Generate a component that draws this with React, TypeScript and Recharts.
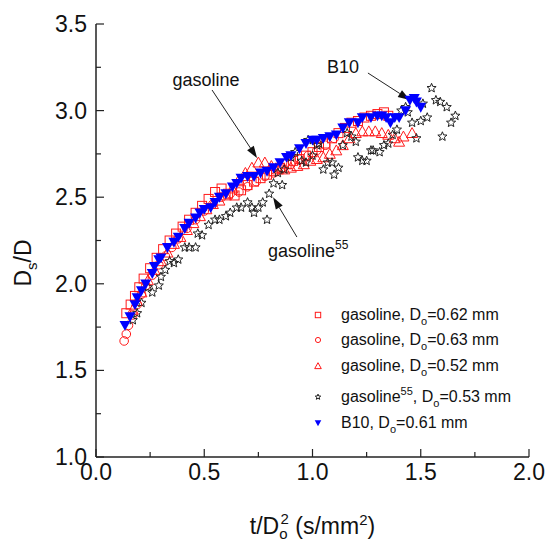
import React from 'react';
import {
  ScatterChart,
  Scatter,
  XAxis,
  YAxis,
  Legend,
  Label,
  ReferenceLine,
  ReferenceDot,
} from 'recharts';

// gasoline, Do=0.62 mm (open squares)
const sqX = [0.14, 0.16, 0.18, 0.2, 0.22, 0.25, 0.28, 0.31, 0.34, 0.37, 0.4, 0.43, 0.46, 0.49, 0.52, 0.55, 0.58, 0.61, 0.64, 0.67, 0.7, 0.73, 0.76, 0.79, 0.82, 0.85, 0.88, 0.91, 0.94, 0.97, 1.0, 1.03, 1.06, 1.09, 1.12, 1.15, 1.18, 1.21, 1.24, 1.27, 1.3, 1.33, 1.35];
const sqY = [1.83, 1.88, 1.93, 1.98, 2.03, 2.09, 2.15, 2.2, 2.25, 2.29, 2.33, 2.37, 2.41, 2.45, 2.49, 2.53, 2.55, 2.52, 2.51, 2.54, 2.57, 2.59, 2.61, 2.63, 2.65, 2.67, 2.69, 2.71, 2.72, 2.74, 2.76, 2.79, 2.81, 2.84, 2.87, 2.9, 2.93, 2.94, 2.96, 2.97, 2.98, 2.99, 2.97];

// gasoline, Do=0.63 mm (open circles)
const ciX = [0.13, 0.14, 0.15, 0.17, 0.19, 0.21, 0.23, 0.26, 0.29, 0.32, 0.35, 0.38, 0.42, 0.46, 0.5, 0.54, 0.58, 0.62, 0.66, 0.7, 0.74, 0.78, 0.82, 0.86, 0.9, 0.94, 0.98, 1.02, 1.06, 1.1];
const ciY = [1.67, 1.71, 1.76, 1.82, 1.88, 1.94, 1.99, 2.05, 2.11, 2.16, 2.21, 2.26, 2.32, 2.37, 2.42, 2.46, 2.5, 2.52, 2.53, 2.56, 2.59, 2.62, 2.64, 2.67, 2.69, 2.72, 2.74, 2.77, 2.8, 2.84];

// gasoline, Do=0.52 mm (open triangles)
const trX = [0.17, 0.19, 0.21, 0.24, 0.27, 0.3, 0.33, 0.36, 0.39, 0.42, 0.45, 0.48, 0.51, 0.54, 0.57, 0.6, 0.63, 0.66, 0.69, 0.72, 0.75, 0.78, 0.81, 0.84, 0.87, 0.9, 0.93, 0.96, 0.99, 1.02, 1.05, 1.08, 1.11, 1.14, 1.17, 1.2, 1.23, 1.26, 1.29, 1.32, 1.35, 1.38, 1.4, 1.42, 1.46];
const trY = [1.85, 1.9, 1.95, 2.02, 2.08, 2.13, 2.18, 2.23, 2.27, 2.31, 2.35, 2.39, 2.43, 2.46, 2.48, 2.51, 2.55, 2.6, 2.64, 2.67, 2.7, 2.7, 2.68, 2.66, 2.66, 2.67, 2.68, 2.69, 2.71, 2.72, 2.73, 2.75, 2.77, 2.8, 2.84, 2.87, 2.88, 2.88, 2.88, 2.87, 2.86, 2.84, 2.82, 2.85, 2.87];

// gasoline55, Do=0.53 mm (stars)
const stX = [0.17, 0.19, 0.21, 0.24, 0.26, 0.29, 0.3, 0.32, 0.34, 0.36, 0.38, 0.41, 0.43, 0.46, 0.47, 0.49, 0.52, 0.55, 0.57, 0.6, 0.62, 0.65, 0.67, 0.7, 0.72, 0.73, 0.75, 0.77, 0.79, 0.8, 0.82, 0.84, 0.86, 0.87, 0.9, 0.92, 0.95, 0.97, 0.98, 1.0, 1.02, 1.03, 1.05, 1.07, 1.09, 1.1, 1.12, 1.14, 1.16, 1.18, 1.2, 1.21, 1.23, 1.25, 1.27, 1.28, 1.31, 1.33, 1.35, 1.37, 1.39, 1.41, 1.43, 1.44, 1.46, 1.48, 1.5, 1.51, 1.53, 1.55, 1.57, 1.59, 1.6, 1.62, 1.64, 1.66];
const stY = [1.79, 1.83, 1.89, 1.98, 1.95, 1.99, 2.04, 2.08, 2.13, 2.12, 2.14, 2.21, 2.21, 2.21, 2.29, 2.28, 2.34, 2.37, 2.37, 2.39, 2.41, 2.44, 2.44, 2.47, 2.44, 2.41, 2.44, 2.47, 2.37, 2.52, 2.58, 2.64, 2.57, 2.66, 2.73, 2.76, 2.71, 2.7, 2.83, 2.74, 2.8, 2.81, 2.66, 2.7, 2.7, 2.63, 2.67, 2.8, 2.87, 2.85, 2.82, 2.73, 2.71, 2.71, 2.77, 2.77, 2.76, 2.8, 2.81, 2.86, 2.89, 3.0, 3.02, 2.99, 2.93, 2.84, 2.94, 3.04, 2.96, 3.13, 3.06, 3.05, 2.85, 3.02, 2.93, 2.97];

// B10, Do=0.61 mm (filled down triangles)
const b10X = [0.134, 0.157, 0.18, 0.19, 0.21, 0.23, 0.26, 0.27, 0.29, 0.3, 0.33, 0.36, 0.38, 0.41, 0.43, 0.46, 0.48, 0.5, 0.53, 0.55, 0.57, 0.6, 0.63, 0.65, 0.67, 0.7, 0.73, 0.76, 0.79, 0.82, 0.85, 0.88, 0.9, 0.94, 0.97, 1.0, 1.02, 1.05, 1.08, 1.11, 1.14, 1.17, 1.21, 1.23, 1.27, 1.3, 1.32, 1.34, 1.36, 1.38, 1.4, 1.43, 1.45, 1.47, 1.48, 1.5];
const b10Y = [1.76, 1.81, 1.88, 1.92, 1.96, 2.0, 2.06, 2.1, 2.14, 2.15, 2.21, 2.24, 2.27, 2.32, 2.35, 2.38, 2.41, 2.43, 2.44, 2.47, 2.5, 2.52, 2.56, 2.58, 2.61, 2.62, 2.62, 2.64, 2.65, 2.67, 2.7, 2.73, 2.74, 2.78, 2.81, 2.83, 2.83, 2.84, 2.85, 2.86, 2.9, 2.93, 2.93, 2.96, 2.96, 2.97, 2.97, 2.96, 2.93, 2.96, 2.96, 3.0, 3.06, 3.07, 3.05, 3.02];

const xTicks = [0, 0.25, 0.5, 0.75, 1, 1.25, 1.5, 1.75, 2];
const yTicks = [1, 1.25, 1.5, 1.75, 2, 2.25, 2.5, 2.75, 3, 3.25, 3.5];

const FONT = '"Liberation Sans", Arial, sans-serif';
const RED = '#ff1a1a';
const BLUE = '#0000ff';
const DARK = '#222';
const AXIS = '#222';

const zip = (xs: number[], ys: number[]) => xs.map((x, i) => ({ x, y: ys[i] }));

const isMajor = (v: number) => Math.abs(v * 2 - Math.round(v * 2)) < 1e-6;

function starPoints(cx: number, cy: number, R: number, r: number) {
  const pts: string[] = [];
  for (let i = 0; i < 10; i++) {
    const rad = i % 2 === 0 ? R : r;
    const a = -Math.PI / 2 + (i * Math.PI) / 5;
    pts.push(`${cx + rad * Math.cos(a)},${cy + rad * Math.sin(a)}`);
  }
  return pts.join(' ');
}

type Kind = 'square' | 'circle' | 'triangle' | 'star' | 'down';

function Marker({ kind, cx, cy, s = 1 }: { kind: Kind; cx: number; cy: number; s?: number }) {
  if (kind === 'square') {
    const h = 4.5 * s;
    return <rect x={cx - h} y={cy - h} width={2 * h} height={2 * h} fill="none" stroke={RED} strokeWidth={1} />;
  }
  if (kind === 'circle') {
    return <circle cx={cx} cy={cy} r={4.3 * s} fill="none" stroke={RED} strokeWidth={1} />;
  }
  if (kind === 'triangle') {
    const w = 5.5 * s;
    return (
      <polygon
        points={`${cx},${cy - w} ${cx + w},${cy + w * 0.8} ${cx - w},${cy + w * 0.8}`}
        fill="none"
        stroke={RED}
        strokeWidth={1}
      />
    );
  }
  if (kind === 'star') {
    return <polygon points={starPoints(cx, cy, 4.8 * s, 2.1 * s)} fill="none" stroke={DARK} strokeWidth={1} />;
  }
  const w = 5.5 * s;
  return (
    <polygon points={`${cx - w},${cy - w * 0.8} ${cx + w},${cy - w * 0.8} ${cx},${cy + w}`} fill={BLUE} />
  );
}

const shapeOf = (kind: Kind) => (p: any) => <Marker kind={kind} cx={p.cx} cy={p.cy} />;

const BottomTick = (p: any) => {
  const { x, y, payload } = p;
  const major = isMajor(payload.value);
  return (
    <g>
      <line x1={x} y1={y} x2={x} y2={y - (major ? 8 : 5)} stroke={AXIS} strokeWidth={1.2} />
      {major && (
        <text x={x} y={y + 23} textAnchor="middle" fontSize={23} fill="#111" fontFamily={FONT}>
          {payload.value.toFixed(1)}
        </text>
      )}
    </g>
  );
};

const TopTick = (p: any) => {
  const { x, y, payload } = p;
  const major = isMajor(payload.value);
  return <line x1={x} y1={y} x2={x} y2={y + (major ? 8 : 5)} stroke={AXIS} strokeWidth={1.2} />;
};

const LeftTick = (p: any) => {
  const { x, y, payload } = p;
  const major = isMajor(payload.value);
  return (
    <g>
      <line x1={x} y1={y} x2={x + (major ? 8 : 5)} y2={y} stroke={AXIS} strokeWidth={1.2} />
      {major && (
        <text x={x - 9} y={y + 8} textAnchor="end" fontSize={23} fill="#111" fontFamily={FONT}>
          {payload.value.toFixed(1)}
        </text>
      )}
    </g>
  );
};

const RightTick = (p: any) => {
  const { x, y, payload } = p;
  const major = isMajor(payload.value);
  return <line x1={x} y1={y} x2={x - (major ? 8 : 5)} y2={y} stroke={AXIS} strokeWidth={1.2} />;
};

const XTitle = ({ viewBox }: any) => {
  const cx = viewBox.x + viewBox.width / 2;
  return (
    <text x={cx} y={viewBox.y + 77} textAnchor="middle" fontSize={23} fill="#111" fontFamily={FONT}>
      t/D
      <tspan fontSize={15} dy={5}>o</tspan>
      <tspan fontSize={15} dx={-7} dy={-15}>2</tspan>
      <tspan fontSize={23} dy={10}> (s/mm</tspan>
      <tspan fontSize={15} dy={-9}>2</tspan>
      <tspan fontSize={23} dy={9}>)</tspan>
    </text>
  );
};

const YTitle = () => {
  const cx = 31;
  const cy = 263;
  return (
    <text
      x={cx}
      y={cy}
      transform={`rotate(-90 ${cx} ${cy})`}
      textAnchor="middle"
      fontSize={23}
      fill="#111"
      fontFamily={FONT}
    >
      D<tspan fontSize={15} dy={6}>s</tspan>
      <tspan fontSize={23} dy={-6}>/D</tspan>
    </text>
  );
};

const Arrow = (p: any) => {
  const { x1, y1, x2, y2 } = p;
  const ang = Math.atan2(y2 - y1, x2 - x1);
  const L = 12;
  const W = 4;
  const bx = x2 - L * Math.cos(ang);
  const by = y2 - L * Math.sin(ang);
  const pts = `${x2},${y2} ${bx - W * Math.sin(ang)},${by + W * Math.cos(ang)} ${bx + W * Math.sin(ang)},${by - W * Math.cos(ang)}`;
  return (
    <g>
      <line x1={x1} y1={y1} x2={bx} y2={by} stroke={DARK} strokeWidth={1} />
      <polygon points={pts} fill="#111" />
    </g>
  );
};

const annoText =
  (text: string, anchor: 'start' | 'middle', sup?: string) =>
  ({ viewBox }: any) =>
    (
      <text x={viewBox.x} y={viewBox.y} textAnchor={anchor} fontSize={18} fill="#111" fontFamily={FONT}>
        {text}
        {sup && (
          <tspan fontSize={12} dy={-8}>
            {sup}
          </tspan>
        )}
      </text>
    );

const legendItems: { kind: Kind; name: string; sup?: string; d: string }[] = [
  { kind: 'square', name: 'gasoline', d: '0.62' },
  { kind: 'circle', name: 'gasoline', d: '0.63' },
  { kind: 'triangle', name: 'gasoline', d: '0.52' },
  { kind: 'star', name: 'gasoline', sup: '55', d: '0.53' },
  { kind: 'down', name: 'B10', d: '0.61' },
];

const LegendBox = () => (
  <div style={{ fontFamily: FONT, fontSize: 16, color: '#111' }}>
    {legendItems.map((it, i) => (
      <div
        key={i}
        style={{ display: 'flex', alignItems: 'center', height: 25.5, marginTop: i === 3 ? 6 : 0, whiteSpace: 'nowrap' }}
      >
        <svg width={20} height={12} style={{ marginRight: 13 }}>
          <Marker kind={it.kind} cx={10} cy={6} s={0.6} />
        </svg>
        <span>
          {it.name}
          {it.sup && <span style={{ fontSize: 11, position: 'relative', top: -7 }}>{it.sup}</span>}, D
          <span style={{ fontSize: 11, position: 'relative', top: 5 }}>o</span>={it.d} mm
        </span>
      </div>
    ))}
  </div>
);

export default function App() {
  return (
    <div style={{ position: 'absolute', left: 0, top: 0, width: 549, height: 543, background: '#fff' }}>
      <ScatterChart width={549} height={543} margin={{ top: 24, right: 20, bottom: 0, left: 0 }}>
        <XAxis
          xAxisId="b"
          type="number"
          dataKey="x"
          domain={[0, 2]}
          ticks={xTicks}
          interval={0}
          allowDataOverflow
          orientation="bottom"
          height={86}
          axisLine={{ stroke: AXIS, strokeWidth: 1.5 }}
          tickLine={false}
          tickSize={0}
          tickMargin={0}
          tick={<BottomTick />}
        >
          <Label content={<XTitle />} />
        </XAxis>
        <XAxis
          xAxisId="t"
          type="number"
          domain={[0, 2]}
          ticks={xTicks}
          interval={0}
          allowDataOverflow
          orientation="top"
          height={0}
          axisLine={{ stroke: AXIS, strokeWidth: 1.5 }}
          tickLine={false}
          tickSize={0}
          tickMargin={0}
          tick={<TopTick />}
        />
        <YAxis
          yAxisId="l"
          type="number"
          dataKey="y"
          domain={[1, 3.5]}
          ticks={yTicks}
          interval={0}
          allowDataOverflow
          width={96}
          axisLine={{ stroke: AXIS, strokeWidth: 1.5 }}
          tickLine={false}
          tickSize={0}
          tickMargin={0}
          tick={<LeftTick />}
        >
          <Label content={<YTitle />} />
        </YAxis>
        <YAxis
          yAxisId="r"
          type="number"
          orientation="right"
          domain={[1, 3.5]}
          ticks={yTicks}
          interval={0}
          allowDataOverflow
          width={0}
          axisLine={{ stroke: AXIS, strokeWidth: 1.5 }}
          tickLine={false}
          tickSize={0}
          tickMargin={0}
          tick={<RightTick />}
        />
        <Legend
          layout="vertical"
          align="center"
          verticalAlign="middle"
          wrapperStyle={{ left: 308, top: 302, width: 240 }}
          content={() => <LegendBox />}
        />
        <Scatter xAxisId="b" yAxisId="l" name="gasoline, Do=0.62 mm" data={zip(sqX, sqY)} shape={shapeOf('square')} isAnimationActive={false} />
        <Scatter xAxisId="b" yAxisId="l" name="gasoline, Do=0.63 mm" data={zip(ciX, ciY)} shape={shapeOf('circle')} isAnimationActive={false} />
        <Scatter xAxisId="b" yAxisId="l" name="gasoline, Do=0.52 mm" data={zip(trX, trY)} shape={shapeOf('triangle')} isAnimationActive={false} />
        <Scatter xAxisId="b" yAxisId="l" name="gasoline55, Do=0.53 mm" data={zip(stX, stY)} shape={shapeOf('star')} isAnimationActive={false} />
        <Scatter xAxisId="b" yAxisId="l" name="B10, Do=0.61 mm" data={zip(b10X, b10Y)} shape={shapeOf('down')} isAnimationActive={false} />

        <ReferenceLine xAxisId="b" yAxisId="l" segment={[{ x: 0.536, y: 3.119 }, { x: 0.744, y: 2.726 }]} shape={<Arrow />} />
        <ReferenceLine xAxisId="b" yAxisId="l" segment={[{ x: 0.928, y: 2.27 }, { x: 0.818, y: 2.5 }]} shape={<Arrow />} />
        <ReferenceLine xAxisId="b" yAxisId="l" segment={[{ x: 1.256, y: 3.217 }, { x: 1.45, y: 3.061 }]} shape={<Arrow />} />
        <ReferenceDot xAxisId="b" yAxisId="l" x={0.508} y={3.142} r={0} stroke="none" label={annoText('gasoline', 'middle')} />
        <ReferenceDot xAxisId="b" yAxisId="l" x={0.794} y={2.155} r={0} stroke="none" label={annoText('gasoline', 'start', '55')} />
        <ReferenceDot xAxisId="b" yAxisId="l" x={1.067} y={3.217} r={0} stroke="none" label={annoText('B10', 'start')} />
      </ScatterChart>
    </div>
  );
}
